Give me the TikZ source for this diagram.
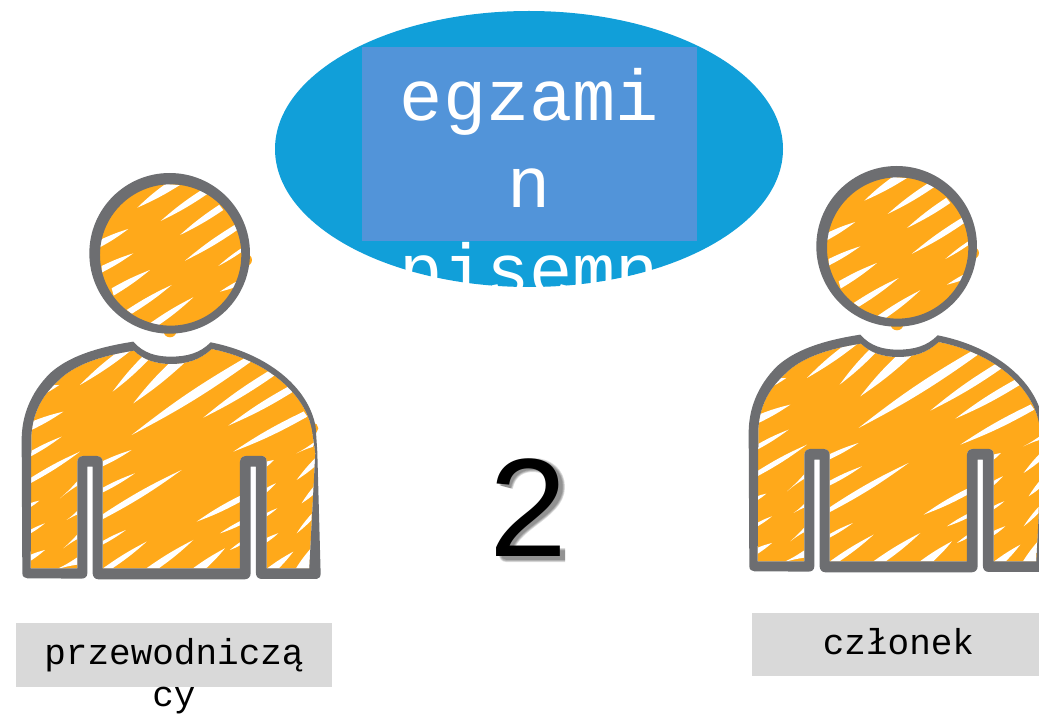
\documentclass[tikz,border=0pt]{standalone}
\usepackage{fontspec}
\usetikzlibrary{calc}
\setmainfont{Liberation Sans}
\setmonofont{Liberation Mono}
\definecolor{ellblue}{HTML}{119FD9}
\definecolor{rectblue}{HTML}{5294D9}
\definecolor{labgrey}{HTML}{D9D9D9}
\definecolor{inkgrey}{HTML}{6D6E71}
\definecolor{scribble}{HTML}{FFA91A}
\newcommand{\sliv}[3]{\fill[white] #1 to[bend right=4] #2 -- ($#2!0.62!#3$) to[bend right=4] cycle;}
\tikzset{
  x=1pt,y=-1pt,
  labelbox/.style={fill=labgrey,inner sep=0,text width=#1,align=center},
  person/.pic={
    \begin{scope}[x=0.3333pt,y=-0.3333pt]
      % orange bumps showing past the outline
      \fill[scribble] (738,300) circle[radius=18];
      \fill[scribble] (510,512) circle[radius=20];
      \fill[scribble] (938,805) circle[radius=17];
      % head
      \fill[scribble] (512,284) circle[radius=216];
      \begin{scope}
        \clip (512,284) circle[radius=216];
        \sliv{(412,143)}{(540,75)}{(470,70)}
        \sliv{(482,183)}{(625,100)}{(590,85)}
        \sliv{(540,225)}{(670,150)}{(650,125)}
        \sliv{(555,302)}{(712,210)}{(700,185)}
        \sliv{(655,318)}{(740,265)}{(725,258)}
        \sliv{(660,395)}{(730,372)}{(728,345)}
        \sliv{(385,207)}{(300,240)}{(295,278)}
        \sliv{(400,280)}{(305,318)}{(305,350)}
        \sliv{(450,330)}{(335,385)}{(345,420)}
        \sliv{(515,375)}{(380,450)}{(405,468)}
        \sliv{(580,412)}{(450,490)}{(490,500)}
      \end{scope}
      \fill[inkgrey,even odd rule]
        (509,280) circle[radius=241]
        (512,285) circle[radius=212];
      % body
      \def\bodyinner{(92,1225) -- (232,1225) -- (232,905)
        .. controls (232,895) and (240,888) .. (250,888) -- (290,888)
        .. controls (300,888) and (308,895) .. (308,905) -- (308,1225)
        -- (720,1225) -- (720,905)
        .. controls (720,895) and (728,888) .. (738,888) -- (785,888)
        .. controls (795,888) and (800,895) .. (800,905) -- (800,1225)
        -- (928,1225) -- (946,880) -- (936,810)
        .. controls (915,700) and (800,600) .. (635,567)
        .. controls (600,600) and (560,612) .. (512,612)
        .. controls (470,612) and (430,600) .. (402,572)
        .. controls (300,588) and (220,615) .. (172,665)
        .. controls (118,715) and (97,770) .. (94,830) -- cycle}
      \fill[scribble] \bodyinner;
      \begin{scope}
        \clip \bodyinner;
        \sliv{(240,675)}{(395,570)}{(320,585)}
        \sliv{(338,695)}{(445,600)}{(420,580)}
        \sliv{(400,730)}{(552,610)}{(490,600)}
        \sliv{(395,825)}{(760,600)}{(720,590)}
        \sliv{(610,773)}{(830,642)}{(800,622)}
        \sliv{(685,797)}{(880,695)}{(860,668)}
        \sliv{(700,875)}{(922,770)}{(905,745)}
        \sliv{(890,880)}{(945,845)}{(935,870)}
        \sliv{(890,960)}{(950,915)}{(945,880)}
        \sliv{(905,1030)}{(945,1000)}{(945,960)}
        \sliv{(890,1120)}{(935,1080)}{(935,1050)}
        \sliv{(885,1230)}{(930,1230)}{(930,1130)}
        \sliv{(190,755)}{(95,785)}{(95,825)}
        \sliv{(185,830)}{(90,875)}{(90,900)}
        \sliv{(240,875)}{(90,955)}{(90,980)}
        \sliv{(178,675)}{(125,680)}{(120,725)}
        \sliv{(180,1015)}{(235,960)}{(235,985)}
        \sliv{(118,1022)}{(90,1030)}{(90,1050)}
        \sliv{(200,1080)}{(235,1050)}{(235,1070)}
        \sliv{(135,1090)}{(90,1110)}{(90,1128)}
        \sliv{(190,1165)}{(235,1120)}{(235,1145)}
        \sliv{(135,1170)}{(90,1185)}{(90,1215)}
        \sliv{(170,1228)}{(235,1190)}{(235,1228)}
        \sliv{(395,870)}{(305,905)}{(305,930)}
        \sliv{(405,940)}{(305,985)}{(305,1008)}
        \sliv{(545,930)}{(305,1065)}{(305,1088)}
        \sliv{(378,1110)}{(305,1145)}{(305,1162)}
        \sliv{(440,1145)}{(305,1228)}{(350,1228)}
        \sliv{(580,1140)}{(435,1228)}{(495,1228)}
        \sliv{(675,1165)}{(575,1228)}{(640,1228)}
        \sliv{(590,1085)}{(722,1025)}{(722,995)}
        \sliv{(660,1120)}{(722,1095)}{(722,1075)}
        \sliv{(690,1170)}{(722,1155)}{(722,1140)}
        \sliv{(822,900)}{(798,905)}{(798,932)}
        \sliv{(828,970)}{(798,985)}{(798,1007)}
        \sliv{(832,1045)}{(798,1060)}{(798,1077)}
        \sliv{(835,1120)}{(798,1135)}{(798,1157)}
        \sliv{(880,1175)}{(798,1228)}{(855,1228)}
      \end{scope}
      \fill[inkgrey,even odd rule]
        (400,545)
        .. controls (290,562) and (205,590) .. (150,640)
        .. controls (90,700) and (65,770) .. (65,840)
        -- (67,1240) .. controls (67,1250) and (74,1255) .. (82,1255)
        -- (245,1256) .. controls (255,1256) and (262,1250) .. (262,1240)
        -- (262,920) -- (278,920) -- (278,1240)
        .. controls (278,1250) and (285,1258) .. (295,1258)
        -- (735,1258) .. controls (745,1258) and (752,1250) .. (752,1240)
        -- (752,920) -- (768,920) -- (768,1240)
        .. controls (768,1250) and (775,1257) .. (785,1257)
        -- (950,1257) .. controls (958,1257) and (962,1250) .. (962,1240)
        -- (952,875) -- (947,800)
        .. controls (925,680) and (800,580) .. (632,547)
        .. controls (600,580) and (560,590) .. (512,590)
        .. controls (470,590) and (430,580) .. (400,545) -- cycle
        \bodyinner;
    \end{scope}
  }
}
\begin{document}
\begin{tikzpicture}[x=1pt,y=-1pt]
  \useasboundingbox (0,0) rectangle (1039,714);
  \clip (0,0) rectangle (1039,714);
  % exam ellipse and its box
  \fill[ellblue] (529,149) ellipse[x radius=254,y radius=138];
  \node[fill=rectblue,inner sep=0,minimum width=335pt,minimum height=194pt] (examBox) at (529.5,144) {};
  \node[text=white,align=center,inner sep=0,anchor=north,font=\ttfamily\fontsize{72}{87}\selectfont] (examText) at (529.5,68) {egzami\\n\\pisemn};
  % figures
  \pic (chair) at (0,160) {person};
  \pic (member) at (727,153) {person};
  % shadow of the numeral, drawn as a soft stroke
  \begin{scope}[shift={(3,4)},line join=round]
    \foreach \w in {14,12.5,11,9.5}{
      \draw[black,opacity=.13,line width=\w pt]
        (503,483) .. controls (507,465) and (520,461) .. (530,461)
        .. controls (545,461) and (555,470) .. (555,483)
        .. controls (555,510) and (505,520) .. (503,551) -- (562,551);
    }
  \end{scope}
  \node[inner sep=0,anchor=base,font=\fontsize{140}{140}\selectfont] (count) at (528.5,556) {2};
  % labels
  \node[labelbox=316pt,minimum height=64pt] (chairBox) at (174,655) {};
  \node[align=center,inner sep=0,anchor=north,font=\ttfamily\fontsize{36}{42}\selectfont] (chairText) at (174,638) {przewodniczą\\cy};
  \node[labelbox=287pt,minimum height=63pt] (memberBox) at (895.5,644.5) {};
  \node[inner sep=0,font=\ttfamily\fontsize{36}{42}\selectfont] (memberText) at (898.5,641.5) {członek};
\end{tikzpicture}
\end{document}
